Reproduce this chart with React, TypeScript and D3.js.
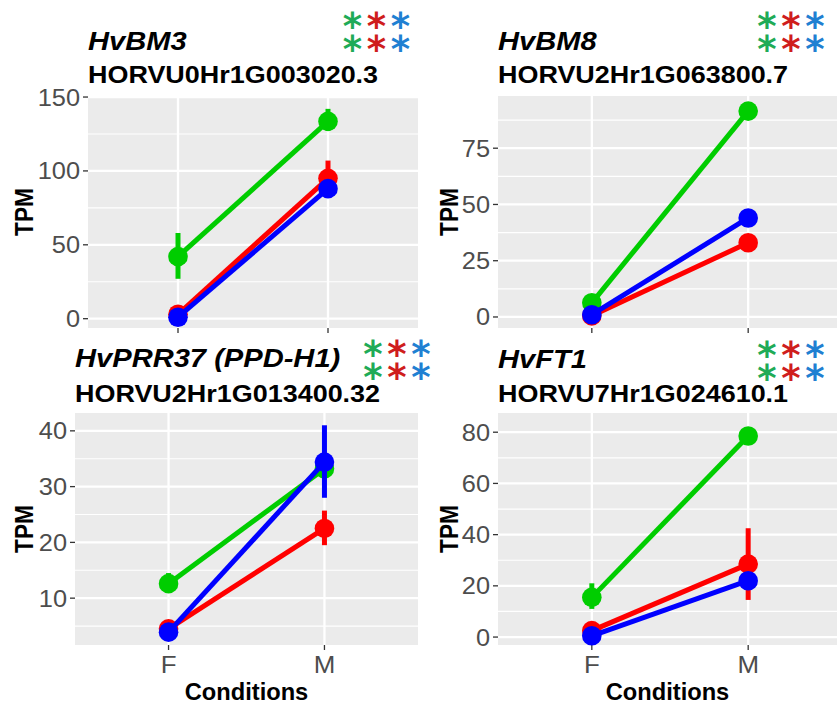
import React from 'react';
import * as d3 from 'd3';

// conditions on the x axis
const conditions = ['F', 'M'];

// line colours: green, red, blue series
const lineColors = ['#00cd00', '#ff0000', '#0000ff'];
const starColors = ['#1fab57', '#cf1d1d', '#1f80d2'];

const geneNames = ['HvBM3', 'HvBM8', 'HvPRR37 (PPD-H1)', 'HvFT1'];
const geneIds = ['HORVU0Hr1G003020.3', 'HORVU2Hr1G063800.7', 'HORVU2Hr1G013400.32', 'HORVU7Hr1G024610.1'];

// mean TPM [series][condition]  (green, red, blue)
const bm3Mean = [[42, 133.5], [3, 95], [1, 88]];
const bm3Low = [[27, 127], [1, 88], [0, 85]];
const bm3High = [[58, 142], [6, 107], [3, 91]];
const bm3Ticks = [0, 50, 100, 150];

const bm8Mean = [[6.3, 91.5], [0.5, 33], [1, 44]];
const bm8Low = [[5, 90], [0, 32], [0, 43]];
const bm8High = [[8, 93], [1, 34], [2, 45]];
const bm8Ticks = [0, 25, 50, 75];

const prrMean = [[12.6, 33.2], [4.5, 22.5], [3.9, 34.4]];
const prrLow = [[11, 32], [4, 19.5], [3.2, 28]];
const prrHigh = [[14.5, 34.2], [5, 25.7], [4.6, 41]];
const prrTicks = [10, 20, 30, 40];

const ft1Mean = [[15.5, 78.5], [2.5, 28.5], [0.5, 22]];
const ft1Low = [[11, 77], [1, 14.5], [0, 19]];
const ft1High = [[21, 80], [4, 42.5], [1.5, 25]];
const ft1Ticks = [0, 20, 40, 60, 80];

// number of stacked asterisks per colour
const bm3Stars = [2, 2, 2];
const bm8Stars = [2, 2, 2];
const prrStars = [2, 2, 2];
const ft1Stars = [2, 2, 2];

const panels = [
  { mean: bm3Mean, low: bm3Low, high: bm3High, ticks: bm3Ticks, stars: bm3Stars, domain: [-6.3, 150.7],
    x0: 88, x1: 418, y0: 96, y1: 328, titleY: 50, subY: 83, starX: 352.5, starY: 19, labelX: 33, xLabels: false },
  { mean: bm8Mean, low: bm8Low, high: bm8High, ticks: bm8Ticks, stars: bm8Stars, domain: [-4.9, 98.2],
    x0: 498, x1: 842, y0: 96, y1: 328, titleY: 50, subY: 83, starX: 767, starY: 19, labelX: 458, xLabels: false },
  { mean: prrMean, low: prrLow, high: prrHigh, ticks: prrTicks, stars: prrStars, domain: [1.6, 43.2],
    x0: 75, x1: 418, y0: 413, y1: 645, titleY: 367, subY: 402, starX: 373, starY: 347, labelX: 33, xLabels: true },
  { mean: ft1Mean, low: ft1Low, high: ft1High, ticks: ft1Ticks, stars: ft1Stars, domain: [-3.1, 87.5],
    x0: 498, x1: 842, y0: 413, y1: 645, titleY: 368, subY: 402, starX: 767, starY: 348, labelX: 458, xLabels: true },
];

const FONT = '"Liberation Sans", Arial, Helvetica, sans-serif';
const STAR_SIZE = 37;

const T = ({ x, y, k = 1.08, rotate = 0, children, ...rest }: any) => (
  <text
    transform={`translate(${x},${y}) scale(${k},1)${rotate ? ` rotate(${rotate})` : ''}`}
    fontFamily={FONT}
    {...rest}
  >
    {children}
  </text>
);

const Panel = ({ p, i }: any) => {
  const x = d3.scalePoint<string>().domain(conditions).range([p.x0, p.x1]).padding(0.6);
  const y = d3.scaleLinear().domain(p.domain).range([p.y1, p.y0]);
  const step = p.ticks[1] - p.ticks[0];
  const minor: number[] = [];
  for (let m = p.ticks[0] - step / 2; m <= p.domain[1]; m += step) {
    if (m >= p.domain[0]) minor.push(m);
  }
  const line = d3.line<number>().x((_, j) => x(conditions[j]) as number).y(d => y(d));
  const midY = (p.y0 + p.y1) / 2;
  const midX = (p.x0 + Math.min(p.x1, 837)) / 2;
  const starRows = d3.range(d3.max(p.stars as number[]) as number);

  return (
    <g>
      <rect x={p.x0} y={p.y0} width={p.x1 - p.x0} height={p.y1 - p.y0} fill="#ebebeb" />
      {minor.map(m => (
        <line key={'mn' + m} x1={p.x0} x2={p.x1} y1={y(m)} y2={y(m)} stroke="#fff" strokeWidth={1.2} />
      ))}
      {p.ticks.map((t: number) => (
        <line key={'mj' + t} x1={p.x0} x2={p.x1} y1={y(t)} y2={y(t)} stroke="#fff" strokeWidth={2.3} />
      ))}
      {conditions.map(c => (
        <line key={'v' + c} x1={x(c)} x2={x(c)} y1={p.y0} y2={p.y1} stroke="#fff" strokeWidth={2.3} />
      ))}

      {/* axes ticks */}
      {p.ticks.map((t: number) => (
        <g key={'yt' + t}>
          <line x1={p.x0 - 5} x2={p.x0} y1={y(t)} y2={y(t)} stroke="#333" strokeWidth={1.3} />
          <T x={p.x0 - 8} y={y(t) + 8.5} textAnchor="end" fontSize={23.5} fill="#4d4d4d">{t}</T>
        </g>
      ))}
      {conditions.map(c => (
        <g key={'xt' + c}>
          <line x1={x(c)} x2={x(c)} y1={p.y1} y2={p.y1 + 5} stroke="#333" strokeWidth={1.3} />
          {p.xLabels && (
            <T x={x(c)} y={p.y1 + 28} textAnchor="middle" fontSize={24} fill="#4d4d4d">{c}</T>
          )}
        </g>
      ))}

      {/* series */}
      {p.mean.map((vals: number[], s: number) => (
        <g key={'s' + s}>
          <path d={line(vals) as string} fill="none" stroke={lineColors[s]} strokeWidth={5} />
          {vals.map((v, j) => (
            <g key={j}>
              <line x1={x(conditions[j])} x2={x(conditions[j])} y1={y(p.low[s][j])} y2={y(p.high[s][j])}
                stroke={lineColors[s]} strokeWidth={5} />
              <circle cx={x(conditions[j])} cy={y(v)} r={9.8} fill={lineColors[s]} />
            </g>
          ))}
        </g>
      ))}

      {/* titles */}
      <T x={p.x0} y={p.titleY} k={1.12} fontSize={26} fontWeight="bold" fontStyle="italic" fill="#000">{geneNames[i]}</T>
      <T x={p.x0} y={p.subY} k={1.1} fontSize={24.5} fontWeight="bold" fill="#000">{geneIds[i]}</T>
      <T x={p.labelX} y={midY} k={1.1} rotate={-90} textAnchor="middle" fontSize={22.7} fontWeight="bold" fill="#000">TPM</T>
      {p.xLabels && (
        <T x={midX} y={700} k={1.03} textAnchor="middle" fontSize={23} fontWeight="bold" fill="#000">Conditions</T>
      )}

      {/* significance asterisks, one text block per panel */}
      <text textAnchor="middle" fontFamily='"DejaVu Sans", sans-serif' fontWeight="bold" fontSize={STAR_SIZE}>
        {starRows.map(r =>
          p.stars.map((n: number, c: number) =>
            r < n ? (
              <tspan key={'st' + r + c} x={p.starX + c * 24} y={p.starY + r * 23 + STAR_SIZE * 0.55}
                fill={starColors[c]}>*</tspan>
            ) : null
          )
        )}
      </text>
    </g>
  );
};

export default function App() {
  return (
    <svg width={837} height={704} style={{ position: 'absolute', left: 0, top: 0, background: '#fff' }}>
      <rect width={837} height={704} fill="#fff" />
      {panels.map((p, i) => (
        <Panel key={i} p={p} i={i} />
      ))}
    </svg>
  );
}
